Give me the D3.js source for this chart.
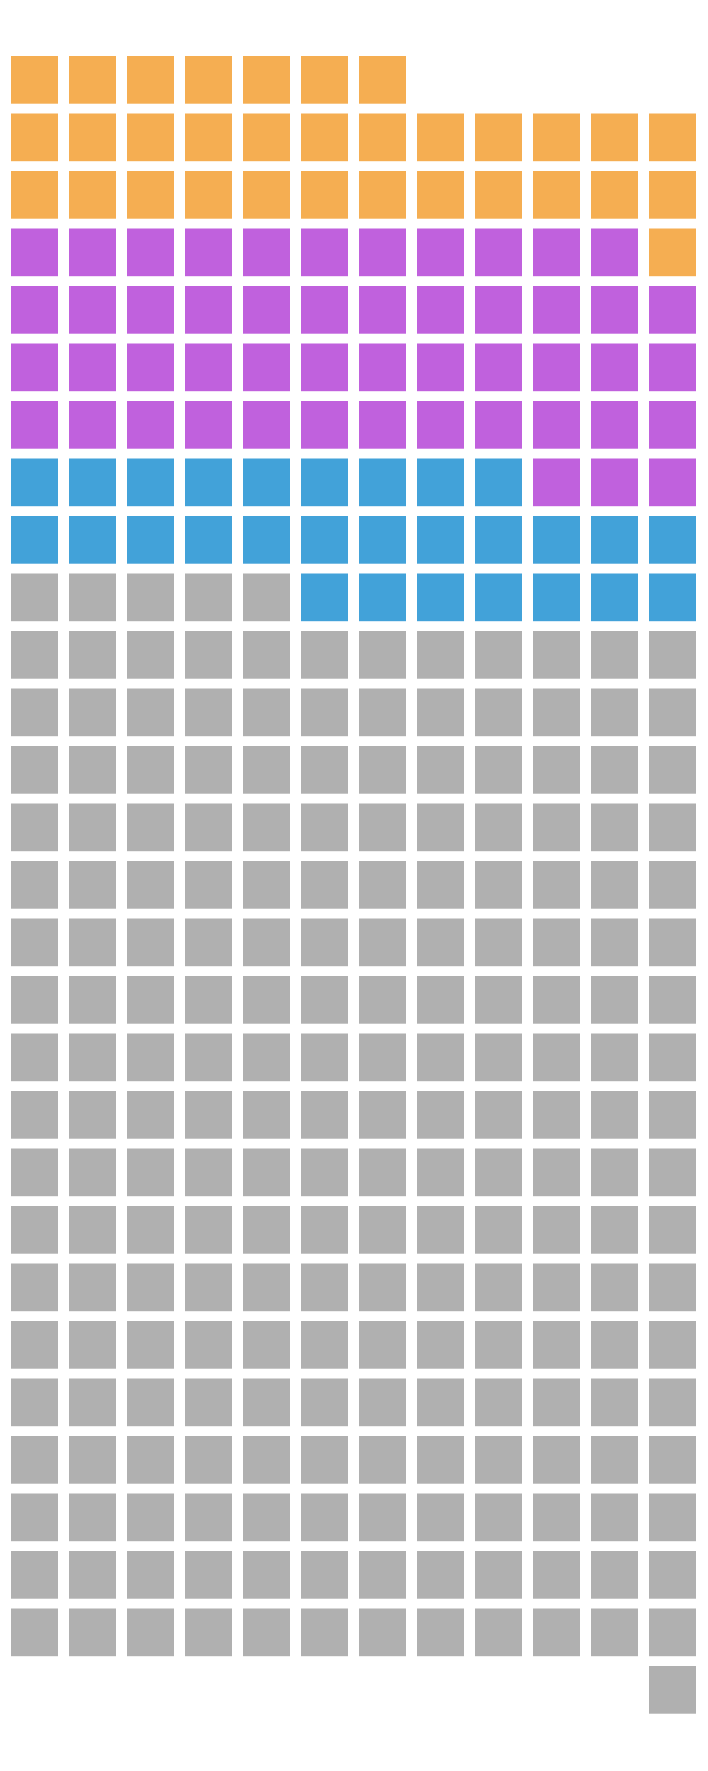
<!DOCTYPE html>
<html>
<head>
<meta charset="utf-8">
<script src="https://cdn.jsdelivr.net/npm/d3@7"></script>
<style>
html,body{margin:0;padding:0;background:#ffffff;}
svg{display:block;}
</style>
</head>
<body>
<svg id="chart" width="708" height="1771"></svg>
<script>
// Data (stacked from the bottom up)
const categories = ["Gray", "Blue", "Purple", "Orange"];
const counts = [222, 28, 50, 32];
const colors = ["#b0b0b0", "#42a2d9", "#c061dd", "#f5ae52"];
const startOffset = 11; // empty cells before first square in bottom row
const columns = 12;
const rows = 29;

const svg = d3.select("#chart");

// build cells
const cells = [];
let idx = startOffset;
categories.forEach((c, ci) => {
  for (let k = 0; k < counts[ci]; k++) {
    cells.push({cat: c, color: colors[ci], col: idx % columns, rowFromBottom: Math.floor(idx / columns)});
    idx++;
  }
});

const x = d3.scaleLinear().domain([0, columns]).range([11, 11 + columns * 58]);
const y = d3.scaleLinear().domain([rows, 0]).range([56, 56 + rows * 57.5]);

svg.append("g")
  .selectAll("rect")
  .data(cells)
  .join("rect")
  .attr("x", d => x(d.col))
  .attr("y", d => y(d.rowFromBottom + 1))
  .attr("width", 47)
  .attr("height", 47.7)
  .attr("fill", d => d.color);
</script>
</body>
</html>
